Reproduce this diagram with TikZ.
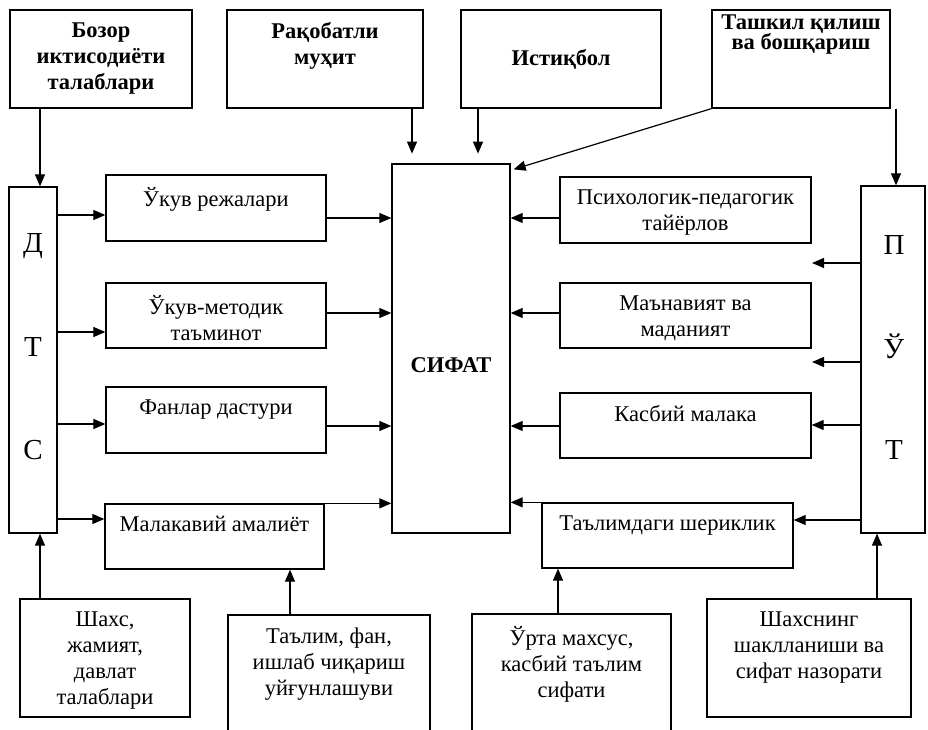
\documentclass[tikz,border=0pt]{standalone}
\usepackage{fontspec}
\setmainfont{Liberation Serif}
\usepackage{tikz}
\usetikzlibrary{positioning,calc,arrows.meta}
\newcommand{\dfont}{\fontsize{22.5}{26}\selectfont}

\begin{document}
\begin{tikzpicture}[
  x=1pt, y=-1pt,
  font=\dfont,
  box/.style={draw, line width=1.3pt, inner sep=0pt},
  txt/.style={anchor=north, align=center, inner sep=0pt, yshift=-13pt, font=\dfont},
  hd/.style={txt, font=\dfont\bfseries},
  top/.style={label={[txt]north:{#1}}},
  toph/.style={label={[hd]north:{#1}}},
  letter/.style={inner sep=0pt, font=\fontsize{29}{30}\selectfont},
  arr/.style={-{Triangle[length=12pt,width=10pt]}, line width=1.2pt}
]
\useasboundingbox (0,0) rectangle (928,730);

\node[box, minimum width=182pt, minimum height=98pt, toph={Бозор\\иктисодиёти\\талаблари}] (bozor) at (101,59) {};
\node[box, minimum width=196pt, minimum height=98pt, toph={Рақобатли\\муҳит}] (raqobat) at (325,59) {};
\node[box, minimum width=200pt, minimum height=98pt, font=\dfont\bfseries] (istiqbol) at (561,59) {Истиқбол};
\node[box, minimum width=178pt, minimum height=98pt,
  label={[hd, yshift=8pt, font=\fontsize{22.5}{20.5}\selectfont\bfseries]north:{Ташкил қилиш\\ва бошқариш}}] (boshqarish) at (801,59) {};

\node[box, minimum width=48pt, minimum height=346pt] (dts) at (33,360) {};
\node[box, minimum width=64pt, minimum height=347pt] (put) at (893,359.5) {};
\foreach \t/\yy in {Д/246, Т/347, С/450}
  \node[letter] (dts-\yy) at (33,\yy) {\t};
\foreach \t/\yy in {П/245, Ў/346, Т/450}
  \node[letter] (put-\yy) at (894,\yy) {\t};

\node[box, minimum width=118pt, minimum height=369pt,
  label={[font=\dfont\bfseries, yshift=-17pt]center:СИФАТ}] (sifat) at (451,348.5) {};

\node[box, minimum width=220pt, minimum height=66pt, top={Ўкув режалари}] (ukuv) at (216,208) {};
\node[box, minimum width=220pt, minimum height=65pt, top={Ўкув-методик\\таъминот}] (metod) at (216,315.5) {};
\node[box, minimum width=220pt, minimum height=66pt, top={Фанлар дастури}] (fan) at (216,420) {};
\node[box, minimum width=219pt, minimum height=65pt, top={Малакавий амалиёт}] (amal) at (214.5,536.5) {};

\node[box, minimum width=251pt, minimum height=66pt, top={Психологик-педагогик\\тайёрлов}] (psix) at (685.5,210) {};
\node[box, minimum width=251pt, minimum height=65pt, top={Маънавият ва\\маданият}] (manav) at (685.5,315.5) {};
\node[box, minimum width=251pt, minimum height=65pt, top={Касбий малака}] (kasb) at (685.5,425.5) {};
\node[box, minimum width=251pt, minimum height=65pt, top={Таълимдаги шериклик}] (sherik) at (667.5,535.5) {};

\node[box, minimum width=170pt, minimum height=118pt, top={Шахс,\\жамият,\\давлат\\талаблари}] (shaxs) at (105,658) {};
\node[box, minimum width=202pt, minimum height=130pt, top={Таълим, фан,\\ишлаб чиқариш\\уйғунлашуви}] (talim) at (329,680) {};
\node[box, minimum width=199pt, minimum height=130pt, top={Ўрта махсус,\\касбий таълим\\сифати}] (urta) at (571.5,679) {};
\node[box, minimum width=204pt, minimum height=118pt, top={Шахснинг\\шаклланиши ва\\сифат назорати}] (nazorat) at (809,658) {};

\coordinate (gap1) at (812,263);
\coordinate (gap2) at (812,362);

\draw[arr] (bozor.south -| 40,0) -- (dts.north -| 40,0);
\draw[arr] (raqobat.south -| 412,0) -- ++(0,45);
\draw[arr] (istiqbol.south -| 478,0) -- ++(0,45);
\draw[arr] (boshqarish.south west) -- ($(sifat.north east)+(3,6)$);
\draw[arr] (boshqarish.south -| 896,0) -- (put.north -| 896,0);

\foreach \nm/\yy in {ukuv/215, metod/332, fan/424, amal/519}
  \draw[arr] (dts.east |- 0,\yy) -- (\nm.west |- 0,\yy);
\foreach \nm/\yy in {ukuv/218, metod/313, fan/426}
  \draw[arr] (\nm.east |- 0,\yy) -- (sifat.west |- 0,\yy);
\draw[arr] (amal.north east) -- (sifat.west |- amal.north east);
\foreach \nm/\yy in {psix/218, manav/313, kasb/426}
  \draw[arr] (\nm.west |- 0,\yy) -- (sifat.east |- 0,\yy);
\draw[arr] (sherik.north west) -- (sifat.east |- sherik.north west);

\draw[arr] (put.west |- gap1) -- (gap1);
\draw[arr] (put.west |- gap2) -- (gap2);
\draw[arr] (put.west |- 0,425) -- (kasb.east |- 0,425);
\draw[arr] (put.west |- 0,520) -- (sherik.east |- 0,520);

\draw[arr] (shaxs.north -| 40,0) -- (dts.south -| 40,0);
\draw[arr] (talim.north -| 290,0) -- (amal.south -| 290,0);
\draw[arr] (urta.north -| 558,0) -- (sherik.south -| 558,0);
\draw[arr] (nazorat.north -| 877,0) -- (put.south -| 877,0);
\end{tikzpicture}
\end{document}
